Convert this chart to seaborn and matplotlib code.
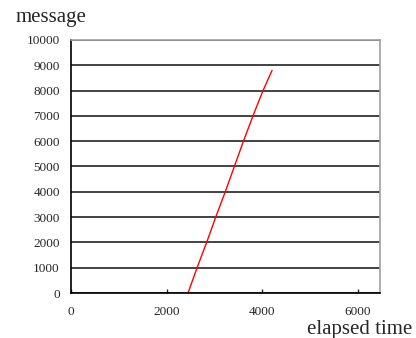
import matplotlib
matplotlib.use("Agg")
import matplotlib.pyplot as plt
import seaborn as sns
import pandas as pd

sns.set_style("white")
plt.rcParams['font.family'] = ['Liberation Serif', 'DejaVu Serif']

# 読み取った値 (elapsed time vs message count)
elapsed = [2450, 2640, 2840, 3030, 3230, 3420, 3610, 3810, 4020, 4210]
message = [0, 1000, 2000, 3000, 4000, 5000, 6000, 7000, 8000, 8800]
xticks = [0, 2000, 4000, 6000]
yticks = list(range(0, 10001, 1000))

df = pd.DataFrame({"elapsed": elapsed, "message": message})

fig = plt.figure(figsize=(4.16, 3.38), dpi=100)
ax = fig.add_axes([0.1707, 0.1331, 0.7428, 0.7486])

sns.lineplot(data=df, x="elapsed", y="message", sort=False, color="#ff0000",
             linewidth=1.0, ax=ax)

ax.set_xlim(0, 6470)
ax.set_ylim(0, 10000)
ax.set_xticks(xticks)
ax.set_yticks(yticks)
ax.set_xlabel("")
ax.set_ylabel("")

ax.yaxis.grid(True, color="#222222", linewidth=1.2)
ax.set_axisbelow(True)

for s in ["left", "bottom"]:
    ax.spines[s].set_color("black")
    ax.spines[s].set_linewidth(1.2)
for s in ["top", "right"]:
    ax.spines[s].set_color("#a0a0a0")
    ax.spines[s].set_linewidth(1.2)

ax.tick_params(axis="y", length=0, pad=8, labelsize=9.5)
ax.tick_params(axis="x", direction="in", length=3, width=1, pad=9,
               labelsize=9.5, bottom=True)

fig.text(16 / 416, 1 - 22 / 338, "message", fontsize=15, ha="left",
         va="baseline")
fig.text(412 / 416, 1 - 334 / 338, "elapsed time", fontsize=15, ha="right",
         va="baseline")

fig.savefig("out.png", dpi=100)
